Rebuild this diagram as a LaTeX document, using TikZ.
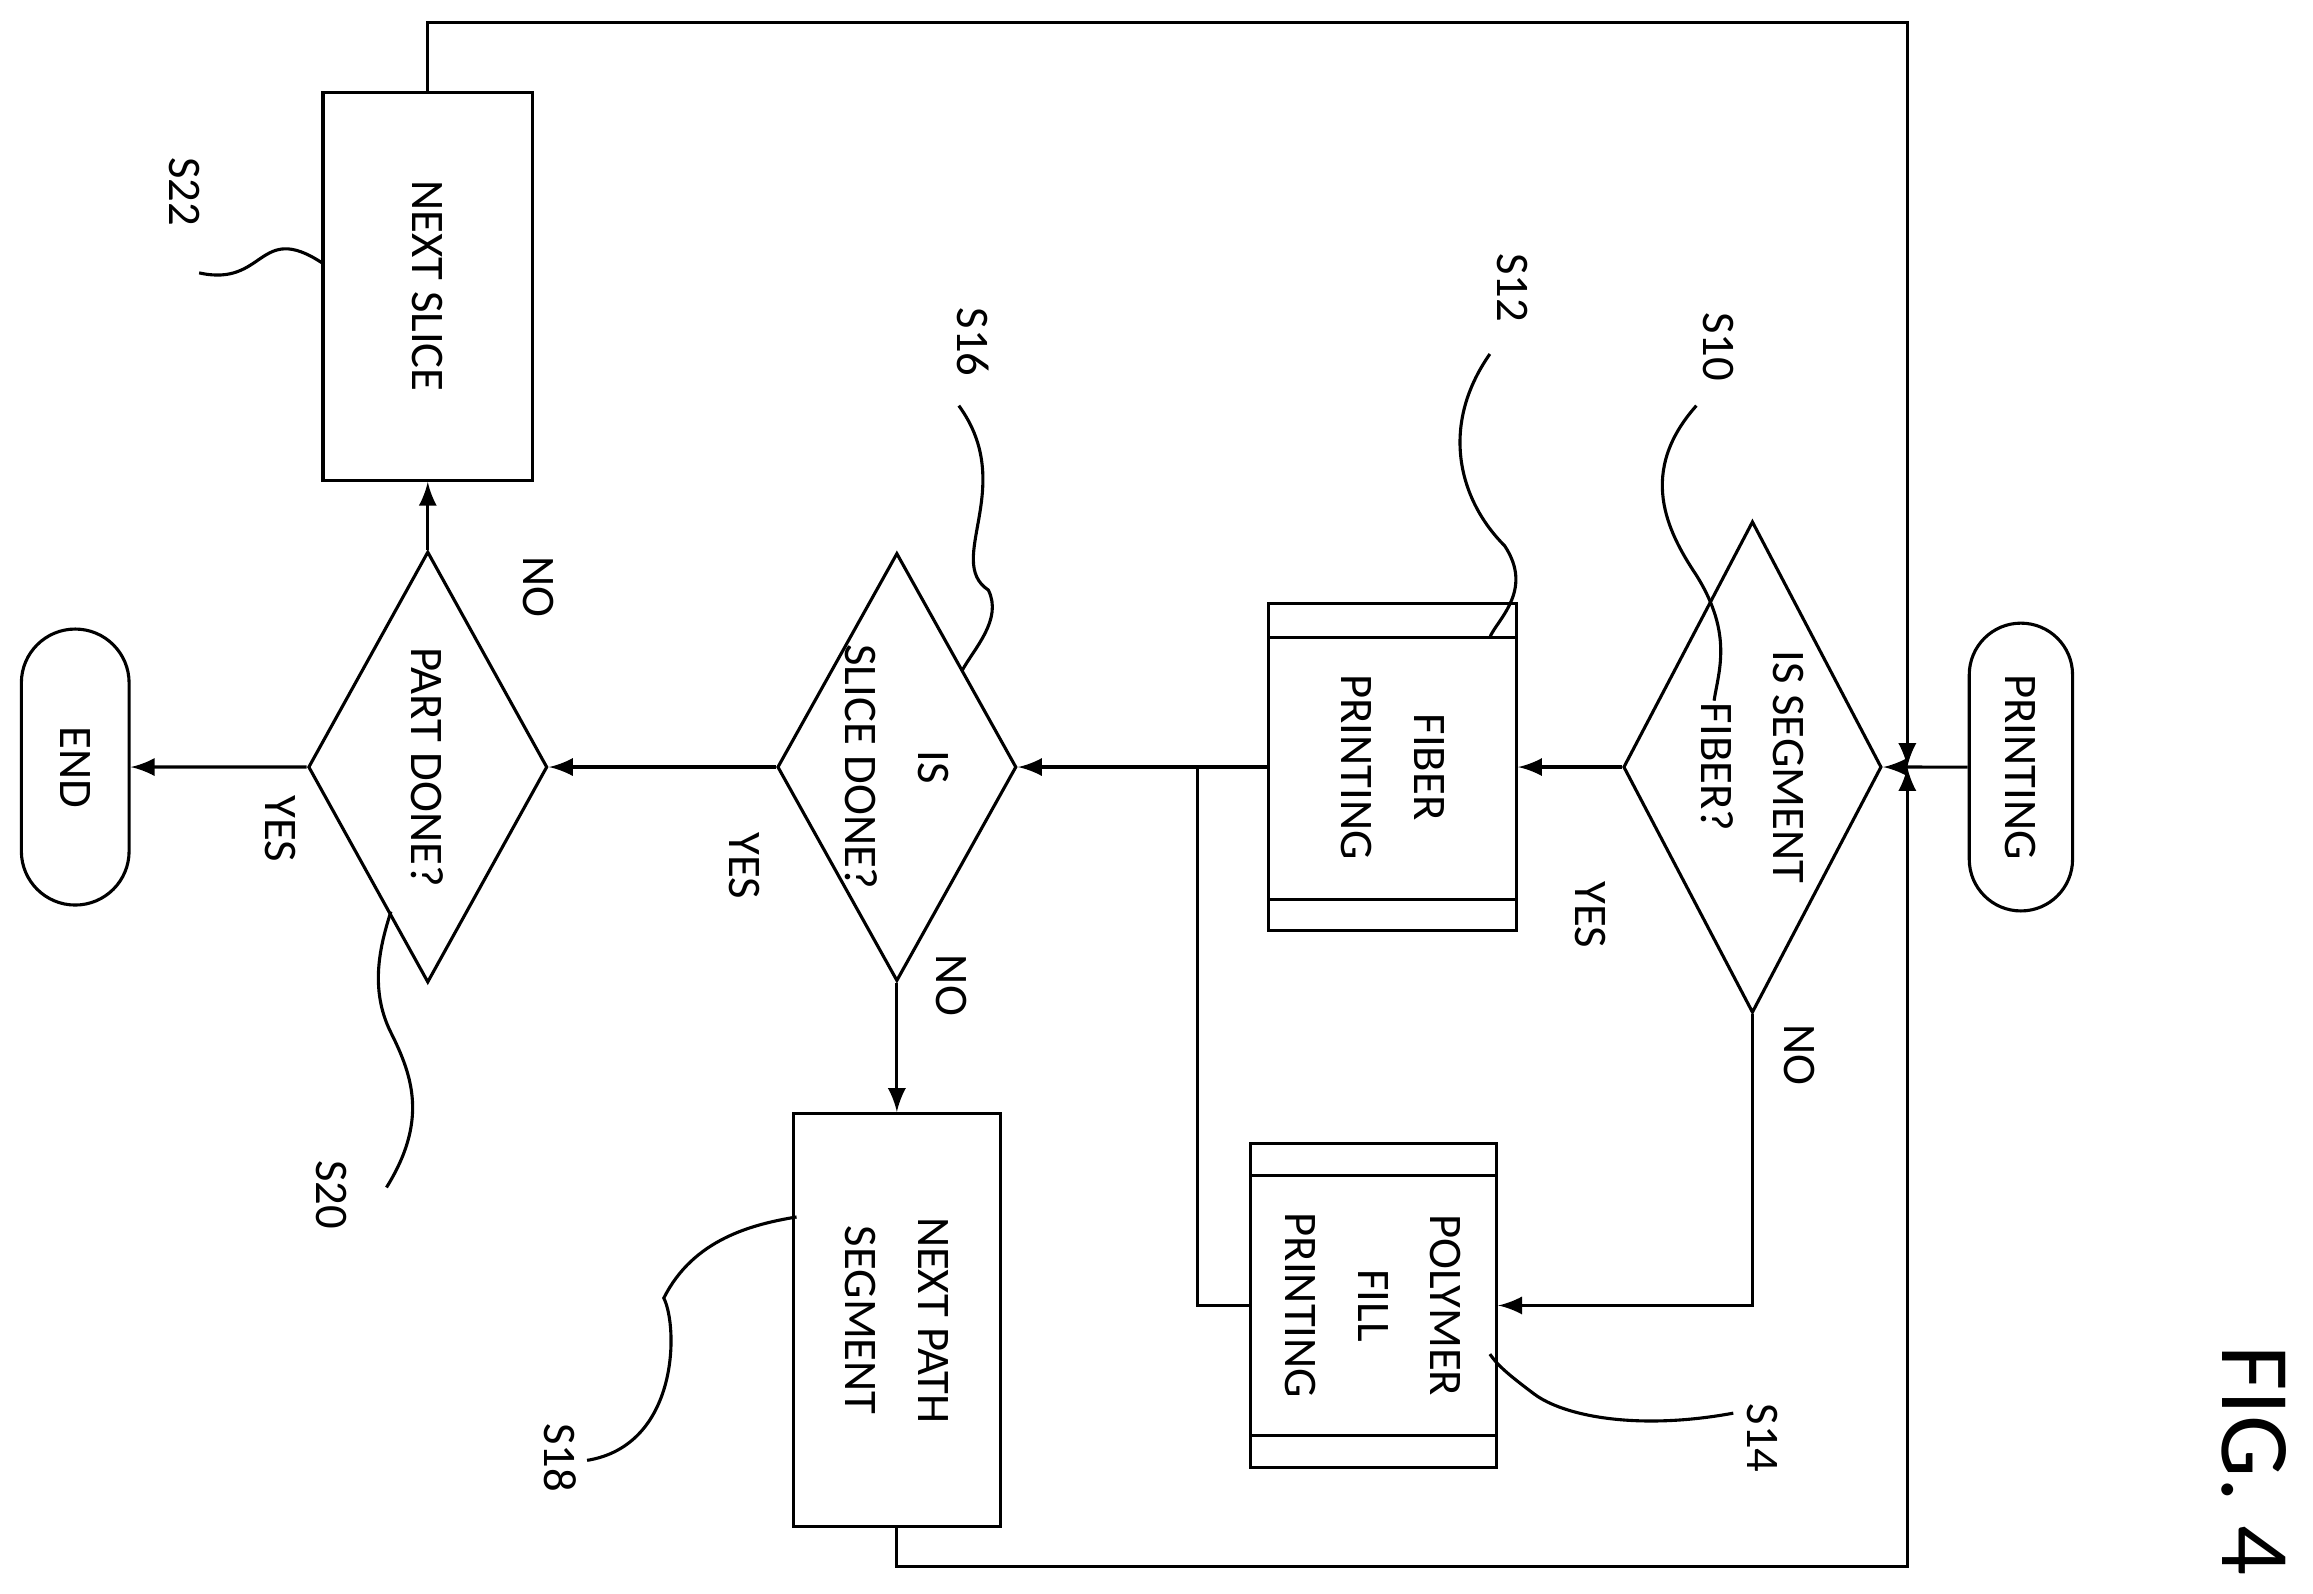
\documentclass[tikz,border=0pt]{standalone}
\usepackage{fontspec}
\setmainfont{Carlito}
\usetikzlibrary{shapes.geometric,shapes.misc,arrows}

\tikzset{
  txt/.style={rotate=-90,font=\fontsize{9}{14}\selectfont,align=center},
  box/.style={txt,draw,rectangle,inner sep=0pt},
  dec/.style={rotate=-90,draw,diamond,inner sep=0pt},
  term/.style={txt,draw,rounded rectangle,inner sep=0pt},
  lab/.style={rotate=-90,font=\fontsize{9}{11}\selectfont},
}

\begin{document}
\begin{tikzpicture}[x=0.01cm,y=-0.01cm,>=latex,semithick]
   \useasboundingbox (0,0) rectangle (1568,1080);
   % nodes
   \node[term,minimum width=1.95cm,minimum height=0.7cm] (print) at (1370,520) {PRINTING};
   \node[dec,minimum width=3.33cm,minimum height=1.75cm] (s10) at (1188,520) {};
   \node[txt] (s10t) at (s10) {IS SEGMENT\\FIBER?};
   \node[box,minimum width=2.22cm,minimum height=1.68cm] (fib) at (944,520) {FIBER\\PRINTING};
   \node[box,minimum width=2.2cm,minimum height=1.67cm] (poly) at (931,885) {POLYMER\\FILL\\PRINTING};
   \node[dec,minimum width=2.9cm,minimum height=1.62cm] (s16) at (608,520) {};
   \node[txt] (s16t) at (s16) {IS\\SLICE DONE?};
   \node[box,minimum width=2.8cm,minimum height=1.4cm] (s18) at (608,895) {NEXT PATH\\SEGMENT};
   \node[dec,minimum width=2.92cm,minimum height=1.62cm] (s20) at (290,520) {};
   \node[txt] (s20t) at (s20) {PART DONE?};
   \node[box,minimum width=2.63cm,minimum height=1.42cm] (s22) at (290,194) {NEXT SLICE};
   \node[term,minimum width=1.87cm,minimum height=0.73cm] (end) at (51,520) {END};
   \coordinate (j) at (812,520);
   \coordinate (m) at (1293,520);
   \coordinate (t1) at (290,15);
   \coordinate (t2) at (1293,15);
   \coordinate (b1) at (608,1062);
   % process bars
   \draw (860,432) -- (1028,432) (860,610) -- (1028,610);
   \draw (848,797) -- (1015,797) (848,973) -- (1015,973);
   % connectors
   \draw[->] (print) -- (s10);
   \draw[->] (s10) -- (fib);
   \draw[->] (s10) |- (poly);
   \draw[->] (fib) -- (s16);
   \draw (poly) -| (j);
   \draw[->] (s16) -- (s18);
   \draw[->] (s16) -- (s20);
   \draw[->] (s20) -- (end);
   \draw[->] (s20) -- (s22);
   \draw[->] (s22) -- (t1) -- (t2) -- (m);
   \draw[->] (s18) -- (b1) -| (m);
   % branch labels
   \node[lab] at (1078,620) {YES};
   \node[lab] at (1220,715) {NO};
   \node[lab] at (645,668) {NO};
   \node[lab] at (505,587) {YES};
   \node[lab] at (190,562) {YES};
   \node[lab] at (365,398) {NO};
   % step labels and leaders
   \node[lab] (l22) at (125,130) {S22};
   \draw (135,185) .. controls (180,195) and (175,150) .. (218,178);
   \node[lab] (l16) at (660,232) {S16};
   \draw (650,275) .. controls (690,330) and (640,380) .. (670,400) .. controls (680,420) and (660,440) .. (652,455);
   \node[lab] (l12) at (1025,195) {S12};
   \draw (1010,240) .. controls (975,290) and (990,340) .. (1020,370) .. controls (1040,400) and (1015,420) .. (1010,432);
   \node[lab] (l10) at (1165,235) {S10};
   \draw (1150,275) .. controls (1110,320) and (1130,360) .. (1150,390) .. controls (1175,430) and (1165,455) .. (1162,475);
   \node[lab] (l14) at (1195,975) {S14};
   \draw (1175,958) .. controls (1110,970) and (1060,960) .. (1040,945) .. controls (1020,930) and (1015,925) .. (1010,918);
   \node[lab] (l18) at (380,988) {S18};
   \draw (398,990) .. controls (460,980) and (460,900) .. (450,880) .. controls (470,840) and (510,830) .. (540,825);
   \node[lab] (l20) at (225,810) {S20};
   \draw (262,805) .. controls (290,760) and (280,730) .. (265,700) .. controls (250,670) and (258,640) .. (265,618);
   \node[rotate=-90,font=\fontsize{19}{22}\selectfont] (fig) at (1528,990) {FIG. 4};
\end{tikzpicture}
\end{document}
